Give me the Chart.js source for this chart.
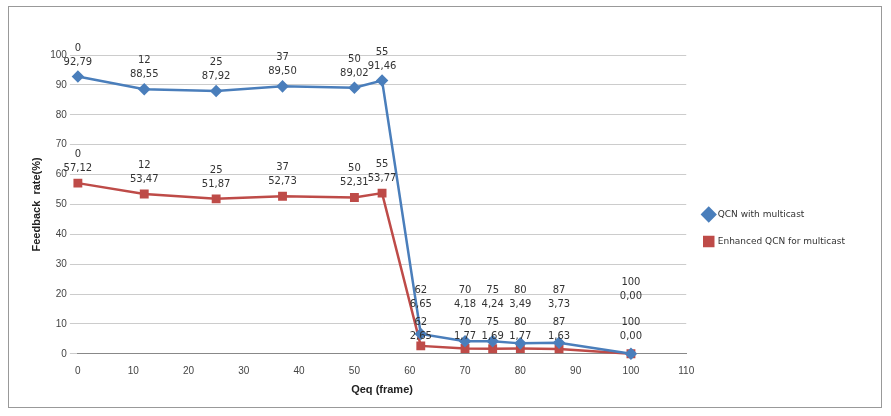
<!DOCTYPE html><html><head><script src="https://cdn.jsdelivr.net/npm/chart.js@4"></script>
<style>body{margin:0;background:#fff}#w{position:absolute;left:8px;top:6px;width:874px;height:402px;border:1px solid #999;box-sizing:border-box}</style></head>
<body><div id="w"><canvas id="c"></canvas></div><script>
const qeq=[0,12,25,37,50,55,62,70,75,80,87,100];
const qcn=[92.79,88.55,87.92,89.50,89.02,91.46,6.65,4.18,4.24,3.49,3.73,0.00];
const enh=[57.12,53.47,51.87,52.73,52.31,53.77,2.65,1.77,1.69,1.77,1.63,0.00];
const mk=(a)=>qeq.map((x,i)=>({x,y:a[i]}));
const lbl={id:'lbl',afterDatasetsDraw(ch){const c=ch.ctx;c.save();c.font='10px "DejaVu Sans"';c.fillStyle='#333';c.textAlign='center';
ch.data.datasets.forEach((d,di)=>{ch.getDatasetMeta(di).data.forEach((p,i)=>{const v=d.data[i];let y=p.y-12;
if(v.y<10){y=(di==0?ch.scales.y.getPixelForValue(0)-47:ch.scales.y.getPixelForValue(0)-15)-(i==qeq.length-1?(di==0?8:0):0);}
c.fillText(String(v.x),p.x,y-14);c.fillText(v.y.toFixed(2).replace('.',','),p.x,y);});});c.restore();}};
new Chart(document.getElementById('c'),{type:'scatter',data:{datasets:[
{label:'QCN with multicast',data:mk(qcn),showLine:true,clip:false,borderColor:'#4a7ebb',backgroundColor:'#4a7ebb',pointStyle:'rectRot',pointRadius:4.5,borderWidth:2.5},
{label:'Enhanced QCN for multicast',data:mk(enh),showLine:true,clip:false,borderColor:'#be4b48',backgroundColor:'#be4b48',pointStyle:'rect',pointRadius:4.5,borderWidth:2.5}]},
options:{responsive:true,maintainAspectRatio:false,animation:false,layout:{padding:{top:48,left:17,right:6,bottom:6}},
plugins:{legend:{position:'right',labels:{usePointStyle:true,font:{size:9,family:'DejaVu Sans'},color:'#333',padding:18}},tooltip:{enabled:false}},
scales:{x:{min:0,max:110,afterFit(s){},ticks:{stepSize:10,font:{size:10},color:'#444'},grid:{display:false},border:{color:'#888'},title:{display:true,text:'Qeq (frame)',font:{size:11,weight:'bold'},color:'#222'}},
y:{min:0,max:100,ticks:{stepSize:10,font:{size:10},color:'#444'},grid:{color:'#ccc'},border:{display:false},title:{display:true,text:'Feedback  rate(%)',font:{size:11,weight:'bold'},color:'#222'}}}},
plugins:[lbl,{id:'lp',beforeInit(ch){const f=ch.legend&&ch.legend.fit;},afterInit(ch){const L=ch.legend;const of=L.fit.bind(L);L.fit=function(){of();this.width+=20;};}}]});
</script></body></html>
